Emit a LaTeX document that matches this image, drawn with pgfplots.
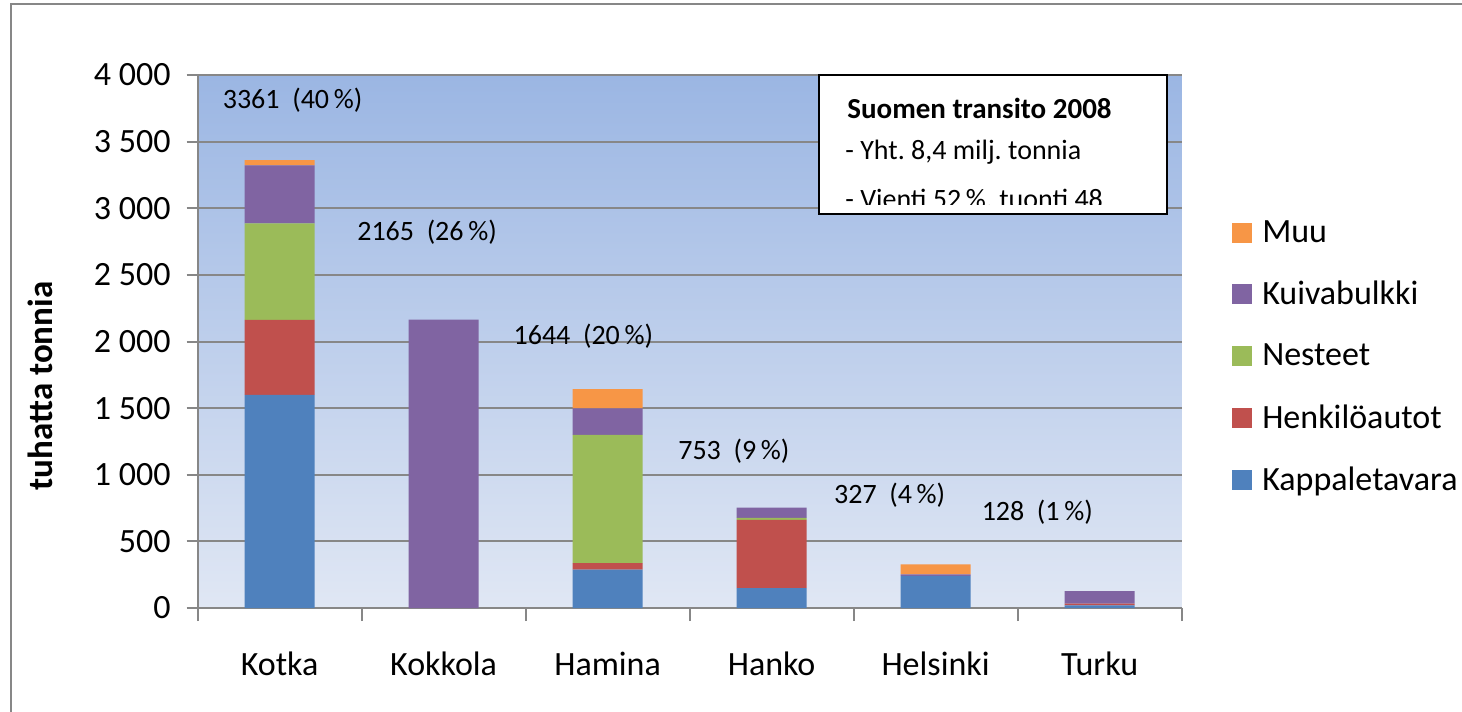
\documentclass[border=0pt]{standalone}
\usepackage{pgfplots}
\pgfplotsset{compat=1.18}
\usepackage{fontspec}
\setmainfont{Carlito}
\frenchspacing
\definecolor{cKap}{HTML}{4F81BD}
\definecolor{cHen}{HTML}{C0504D}
\definecolor{cNes}{HTML}{9BBB59}
\definecolor{cKui}{HTML}{8064A2}
\definecolor{cMuu}{HTML}{F79646}
\definecolor{gridc}{HTML}{878787}
\definecolor{bgTop}{HTML}{9BB6E3}
\definecolor{bgBot}{HTML}{E0E7F4}
\begin{document}
\begin{tikzpicture}[x=1pt,y=1pt]
\path[use as bounding box] (0,0) rectangle (731,356);
\draw[gridc, line width=1pt] (5.5,-5) -- (5.5,354) -- (740,354);
\begin{axis}[
  at={(120.5,78)}, anchor=south west,
  scale only axis, width=492pt, height=266.5pt,
  xmin=-0.5, xmax=5.5, ymin=0, ymax=4000,
  enlargelimits=false,
  ybar stacked, bar width=35pt,
  axis background/.style={top color=bgTop, bottom color=bgBot},
  axis x line*=bottom, axis y line*=left,
  axis line style={gridc, line width=1pt, -},
  xtick={0,...,5}, xticklabels={Kotka,Kokkola,Hamina,Hanko,Helsinki,Turku},
  major x tick style={draw=none},
  minor xtick={-0.5,0.5,...,5.5},
  minor x tick style={gridc, line width=1pt},
  minor tick length=6.5pt,
  ytick={0,500,...,4000},
  y tick style={gridc, line width=1pt},
  major tick length=5.5pt,
  tick align=outside,
  ymajorgrids, grid style={gridc, line width=1pt},
  /pgf/number format/assume math mode=true,
  /pgf/number format/1000 sep={\ },
  yticklabel style={font=\fontsize{17}{20}\selectfont, xshift=-4.5pt},
  xticklabel style={font=\fontsize{17}{20}\selectfont, yshift=-13pt},
  legend style={at={(1.045,0.471)}, anchor=west, draw=none, fill=none, row sep=14pt,
    font=\fontsize{17}{20}\selectfont,
    nodes={inner xsep=5pt}},
  legend cell align=left,
  reverse legend,
  legend image code/.code={\fill[#1] (0pt,-5pt) rectangle (10pt,5pt);},
]
\addplot[fill=cKap, draw=none] coordinates {(0,1600) (1,0) (2,289) (3,149) (4,241) (5,20)};
\addplot[fill=cHen, draw=none] coordinates {(0,562) (1,0) (2,48) (3,513) (4,0) (5,14)};
\addplot[fill=cNes, draw=none] coordinates {(0,725) (1,0) (2,963) (3,15) (4,0) (5,0)};
\addplot[fill=cKui, draw=none] coordinates {(0,436) (1,2165) (2,198) (3,76) (4,12) (5,94)};
\addplot[fill=cMuu, draw=none] coordinates {(0,38) (1,0) (2,146) (3,0) (4,74) (5,0)};
\legend{Kappaletavara, Henkilöautot, Nesteet, Kuivabulkki, Muu}
\node[font=\fontsize{14}{17}\selectfont] at (axis cs:0.079,3812) {3361\ \ (40\,\%)};
\node[font=\fontsize{14}{17}\selectfont] at (axis cs:0.899,2822) {2165\ \ (26\,\%)};
\node[font=\fontsize{14}{17}\selectfont] at (axis cs:1.852,2041) {1644\ \ (20\,\%)};
\node[font=\fontsize{14}{17}\selectfont] at (axis cs:2.77,1178) {753\ \ (9\,\%)};
\node[font=\fontsize{14}{17}\selectfont] at (axis cs:3.72,848) {327\ \ (4\,\%)};
\node[font=\fontsize{14}{17}\selectfont] at (axis cs:4.62,720) {128\ \ (1\,\%)};
\end{axis}
\node[rotate=90, font=\bfseries\fontsize{17.5}{20}\selectfont] at (20,163) {tuhatta tonnia};
\fill[white] (409.5,318.5) rectangle (583.5,249);
\begin{scope}
\clip (410,318) rectangle (583,253.5);
\node[anchor=base west, inner sep=0, font=\bfseries\fontsize{14.5}{16}\selectfont] at (423.5,296.5) {Suomen transito 2008};
\node[anchor=base west, inner sep=0, font=\fontsize{14}{16}\selectfont] at (422.5,276) {- Yht. 8,4 milj. tonnia};
\node[anchor=base west, inner sep=0, font=\fontsize{14}{16}\selectfont] at (422.5,251.5) {- Vienti 52\,\%, tuonti 48};
\end{scope}
\draw[black, line width=1pt] (409.5,318.5) rectangle (583.5,249);
\end{tikzpicture}
\end{document}
